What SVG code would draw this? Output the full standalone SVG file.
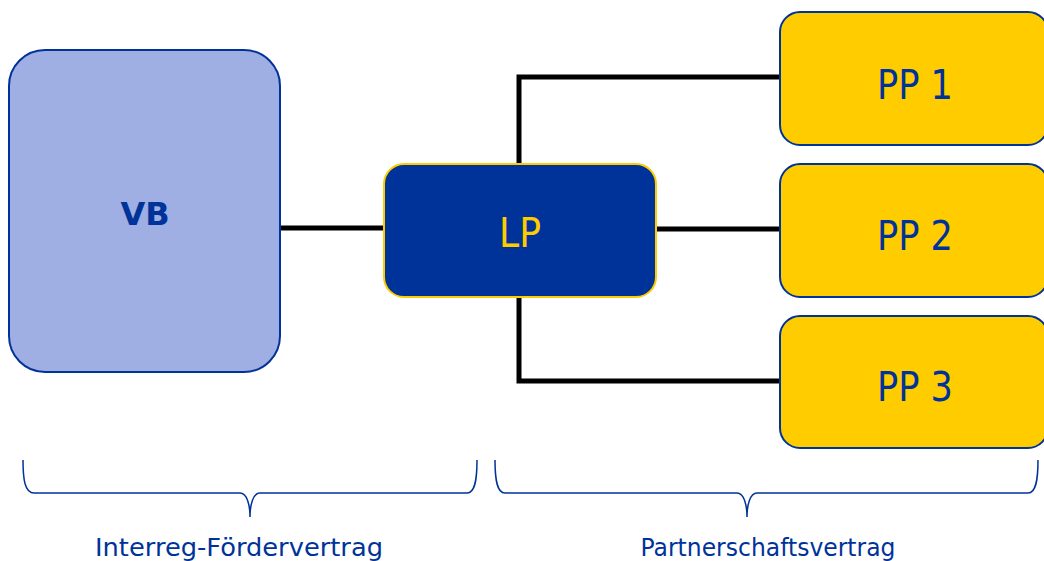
<svg xmlns="http://www.w3.org/2000/svg" width="1044" height="561" viewBox="0 0 1044 561">
<style>
.lbl{font-family:"DejaVu Sans","Liberation Sans",sans-serif;fill:#003399;text-anchor:middle}
.conn{fill:none;stroke:#000;stroke-width:5}
.brace{fill:none;stroke:#003399;stroke-width:1.5}
.pp{fill:#FFCC00;stroke:#003399;stroke-width:2}
</style>
<rect width="1044" height="561" fill="#fff"/>
<g id="connectors">
<line class="conn" x1="280" y1="228" x2="385" y2="228"/>
<line class="conn" x1="655" y1="229" x2="781" y2="229"/>
<polyline class="conn" points="519,165 519,77 781,77"/>
<polyline class="conn" points="519,296 519,381 781,381"/>
</g>
<g id="VB">
<rect x="9" y="50" width="271" height="322" rx="36" fill="#A0AFE3" stroke="#003399" stroke-width="2"/>
<text class="lbl" x="145" y="225" font-size="32" font-weight="bold">VB</text>
</g>
<g id="LP">
<rect x="384" y="164" width="272" height="133" rx="20" fill="#003399" stroke="#FFCC00" stroke-width="2"/>
<text class="lbl" x="520" y="247" font-size="40" textLength="42" lengthAdjust="spacingAndGlyphs" style="fill:#FFCC00">LP</text>
</g>
<g id="PP1">
<rect class="pp" x="780" y="12" width="268" height="133" rx="20"/>
<text class="lbl" x="915" y="99" font-size="41" textLength="76" lengthAdjust="spacingAndGlyphs">PP 1</text>
</g>
<g id="PP2">
<rect class="pp" x="780" y="164" width="268" height="133" rx="20"/>
<text class="lbl" x="915" y="250" font-size="41" textLength="76" lengthAdjust="spacingAndGlyphs">PP 2</text>
</g>
<g id="PP3">
<rect class="pp" x="780" y="316" width="268" height="132" rx="20"/>
<text class="lbl" x="915" y="401" font-size="41" textLength="76" lengthAdjust="spacingAndGlyphs">PP 3</text>
</g>
<g id="brace-left">
<path class="brace" d="M23,460 C23,480 25,493 34,493 L240,493 C247,493 250,505 250,517 C250,505 253,493 260,493 L467,493 C475,493 477,480 477,460"/>
<text class="lbl" x="239" y="556" font-size="25" textLength="288" lengthAdjust="spacingAndGlyphs">Interreg-Fördervertrag</text>
</g>
<g id="brace-right">
<path class="brace" d="M495,460 C495,480 497,493 505,493 L737,493 C744,493 747,505 747,517 C747,505 750,493 757,493 L1028,493 C1036,493 1038,480 1038,460"/>
<text class="lbl" x="768" y="556" font-size="25" textLength="255" lengthAdjust="spacingAndGlyphs">Partnerschaftsvertrag</text>
</g>
</svg>
